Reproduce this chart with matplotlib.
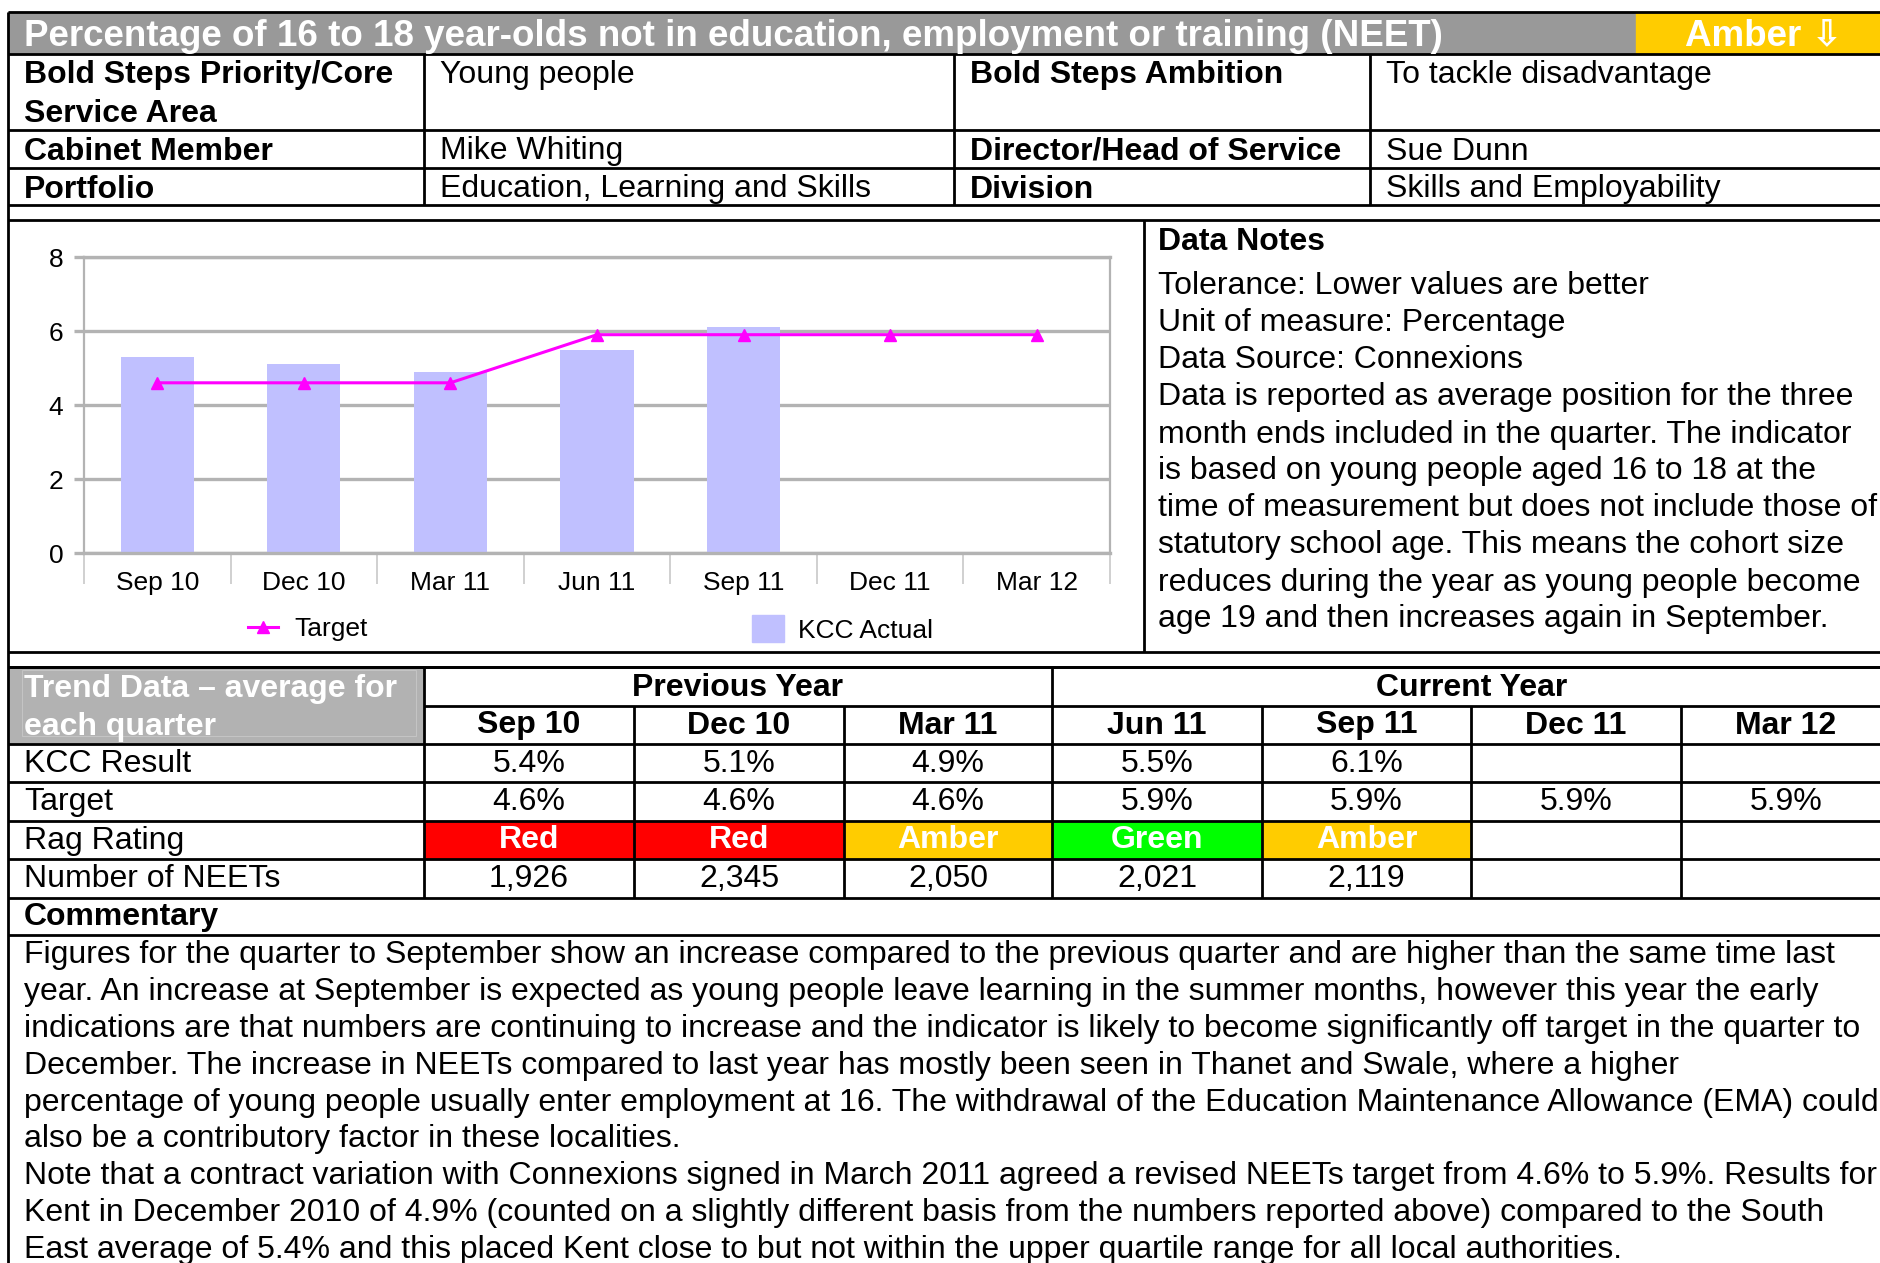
import numpy as np
import matplotlib
matplotlib.use("Agg")
import matplotlib.pyplot as plt
from matplotlib.patches import Rectangle
from matplotlib.lines import Line2D

plt.rcParams['font.family'] = ['Liberation Sans', 'DejaVu Sans']

# data
quarters = ["Sep 10", "Dec 10", "Mar 11", "Jun 11", "Sep 11", "Dec 11", "Mar 12"]
kcc_actual = [5.3, 5.1, 4.9, 5.5, 6.1]
target = [4.6, 4.6, 4.6, 5.9, 5.9, 5.9, 5.9]

kcc_result_txt = ["5.4%", "5.1%", "4.9%", "5.5%", "6.1%", "", ""]
target_txt = ["4.6%", "4.6%", "4.6%", "5.9%", "5.9%", "5.9%", "5.9%"]
rag_rating = ["Red", "Red", "Amber", "Green", "Amber", "", ""]
num_neets = ["1,926", "2,345", "2,050", "2,021", "2,119", "", ""]

title = "Percentage of 16 to 18 year-olds not in education, employment or training (NEET)"
status = "Amber \u21e9"

info_rows = [
    ("Bold Steps Priority/Core\nService Area", "Young people", "Bold Steps Ambition", "To tackle disadvantage"),
    ("Cabinet Member", "Mike Whiting", "Director/Head of Service", "Sue Dunn"),
    ("Portfolio", "Education, Learning and Skills", "Division", "Skills and Employability"),
]

notes = [
    "Tolerance: Lower values are better",
    "Unit of measure: Percentage",
    "Data Source: Connexions",
    "Data is reported as average position for the three",
    "month ends included in the quarter. The indicator",
    "is based on young people aged 16 to 18 at the",
    "time of measurement but does not include those of",
    "statutory school age. This means the cohort size",
    "reduces during the year as young people become",
    "age 19 and then increases again in September.",
]

commentary = [
    "Figures for the quarter to September show an increase compared to the previous quarter and are higher than the same time last",
    "year. An increase at September is expected as young people leave learning in the summer months, however this year the early",
    "indications are that numbers are continuing to increase and the indicator is likely to become significantly off target in the quarter to",
    "December. The increase in NEETs compared to last year has mostly been seen in Thanet and Swale, where a higher",
    "percentage of young people usually enter employment at 16. The withdrawal of the Education Maintenance Allowance (EMA) could",
    "also be a contributory factor in these localities.",
    "Note that a contract variation with Connexions signed in March 2011 agreed a revised NEETs target from 4.6% to 5.9%. Results for",
    "Kent in December 2010 of 4.9% (counted on a slightly different basis from the numbers reported above) compared to the South",
    "East average of 5.4% and this placed Kent close to but not within the upper quartile range for all local authorities.",
]

rag_colors = {"Red": "#ff0000", "Amber": "#ffcc00", "Green": "#00ff00"}

W, H = 1881, 1263
FS = 23
fig = plt.figure(figsize=(W / 100, H / 100), dpi=100)

# page (pixel coordinates)
page = fig.add_axes([0, 0, 1, 1])
page.set_xlim(0, W)
page.set_ylim(H, 0)
page.axis('off')


def hline(y, x0=8, x1=W, lw=2):
    page.plot([x0, x1], [y, y], color='black', lw=lw, solid_capstyle='butt', zorder=5)


def vline(x, y0, y1, lw=2):
    page.plot([x, x], [y0, y1], color='black', lw=lw, solid_capstyle='butt', zorder=5)


def txt(x, y, s, bold=False, ha='left', color='black', size=FS):
    page.text(x, y - 3, s, ha=ha, va='center_baseline', fontsize=size, color=color,
              fontweight='bold' if bold else 'normal', zorder=6)


# title bar
page.add_patch(Rectangle((8, 12), 1636 - 8, 42, color='#999999'))
page.add_patch(Rectangle((1636, 12), W - 1636, 42, color='#ffcc00'))
txt(24, 35, title, bold=True, color='white', size=26.5)
txt(1764, 35, status, bold=True, color='white', ha='center', size=26.5)

# info rows
row_y = [54, 130, 168, 205]
for y in row_y + [12, 220]:
    hline(y)
for x in [424, 954, 1370]:
    vline(x, 54, 205)
for i, (a, b, c, d) in enumerate(info_rows):
    y0 = row_y[i] + 21
    if "\n" in a:
        for k, part in enumerate(a.split("\n")):
            txt(24, y0 + k * 38, part, bold=True)
    else:
        txt(24, y0, a, bold=True)
    txt(440, y0, b)
    txt(970, y0, c, bold=True)
    txt(1386, y0, d)

# chart + notes section
hline(652)
hline(667)
vline(1144, 220, 652)
txt(1158, 241, "Data Notes", bold=True)
for i, line in enumerate(notes):
    txt(1158, 286 + i * 37, line)

# chart
ax = fig.add_axes([84 / W, (H - 553) / H, 1026 / W, 296 / H])
x = np.arange(len(quarters))
ax.bar(x[:len(kcc_actual)], kcc_actual, width=0.5, color='#c0c0ff', zorder=2)
ax.plot(x, target, color='#ff00ff', lw=2.2, marker='^', markersize=9, zorder=3)
ax.set_xlim(-0.5, 6.5)
ax.set_ylim(0, 8)
ax.set_yticks([0, 2, 4, 6, 8])
ax.grid(axis='y', color='#b3b3b3', lw=2.4)
ax.set_axisbelow(True)
for s in ['top', 'bottom']:
    ax.spines[s].set_color('#b3b3b3')
    ax.spines[s].set_linewidth(2.4)
for s in ['left', 'right']:
    ax.spines[s].set_color('#b3b3b3')
    ax.spines[s].set_linewidth(1.6)
ax.set_xticks(x, quarters)
ax.set_xticks(np.arange(-0.5, 7, 1), minor=True)
ax.tick_params(axis='x', which='major', length=0, pad=13, labelsize=19)
ax.tick_params(axis='x', which='minor', length=22, color='#c8c8c8', width=1.2)
ax.tick_params(axis='y', length=7, color='#b3b3b3', width=2.4, labelsize=19, pad=8)

h_t = Line2D([], [], color='#ff00ff', lw=2.2, marker='^', markersize=9)
h_b = Rectangle((0, 0), 1, 1, color='#c0c0ff')
leg1 = ax.legend([h_t], ['Target'], loc='center left', bbox_to_anchor=(248 / W, 1 - 629 / H),
                 bbox_transform=fig.transFigure, frameon=False, fontsize=19,
                 handlelength=1.15, handletextpad=0.6, borderpad=0, borderaxespad=0)
ax.add_artist(leg1)
ax.legend([h_b], ['KCC Actual'], loc='center left', bbox_to_anchor=(752 / W, 1 - 629 / H),
          bbox_transform=fig.transFigure, frameon=False, fontsize=19,
          handlelength=1.2, handleheight=1.15, handletextpad=0.55, borderpad=0, borderaxespad=0)

# trend table
cols = [424, 634, 844, 1052, 1262, 1471, 1681, 1891]
rows = [744, 782, 821, 859, 898]
page.add_patch(Rectangle((8, 667), 424 - 8, 744 - 667, color='#b2b2b2'))
page.add_patch(Rectangle((22, 670), 424 - 30, 744 - 678, fill=False, ec='#c4c4c4', lw=0.8))
txt(24, 688, "Trend Data \u2013 average for", bold=True, color='white')
txt(24, 726, "each quarter", bold=True, color='white')
txt((424 + 1052) / 2, 688, "Previous Year", bold=True, ha='center')
txt((1052 + 1891) / 2, 688, "Current Year", bold=True, ha='center')
hline(706, x0=424)
for i, q in enumerate(quarters):
    txt((cols[i] + cols[i + 1]) / 2, 725, q, bold=True, ha='center')

for i, r in enumerate(rag_rating):
    if r:
        page.add_patch(Rectangle((cols[i], rows[2]), cols[i + 1] - cols[i], rows[3] - rows[2],
                                 color=rag_colors[r]))

row_labels = ["KCC Result", "Target", "Rag Rating", "Number of NEETs"]
row_vals = [kcc_result_txt, target_txt, rag_rating, num_neets]
for j, (lab, vals) in enumerate(zip(row_labels, row_vals)):
    yc = (rows[j] + rows[j + 1]) / 2
    txt(24, yc, lab)
    for i, v in enumerate(vals):
        xc = (cols[i] + cols[i + 1]) / 2
        if lab == "Rag Rating":
            txt(xc, yc, v, bold=True, color='white', ha='center')
        else:
            txt(xc, yc, v, ha='center')

for y in [667, 744, 782, 821, 859, 898, 935]:
    hline(y)
vline(424, 667, 898)
vline(1052, 667, 898)
for c in [634, 844, 1262, 1471, 1681]:
    vline(c, 706, 898)

# commentary
txt(24, 917, "Commentary", bold=True)
for i, line in enumerate(commentary):
    txt(24, 955 + i * 36.8, line)

vline(8, 12, H)

fig.savefig("out.png", dpi=100)
